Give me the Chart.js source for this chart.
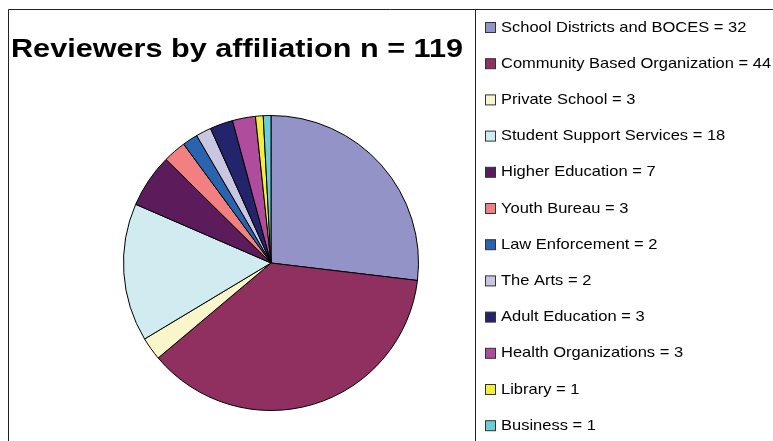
<!DOCTYPE html>
<html>
<head>
<meta charset="utf-8">
<script src="https://cdn.jsdelivr.net/npm/chart.js@4/dist/chart.umd.min.js"></script>
<style>
  html, body { margin: 0; padding: 0; background: #fff; }
  #wrap { width: 773px; height: 441px; }
</style>
</head>
<body>
<div id="wrap"><canvas id="pie" width="773" height="441"></canvas></div>
<script>
const chartTitle = 'Reviewers by affiliation n = 119';

const categories = [
    'School Districts and BOCES', 'Community Based Organization', 'Private School',
    'Student Support Services', 'Higher Education', 'Youth Bureau', 'Law Enforcement',
    'The Arts', 'Adult Education', 'Health Organizations', 'Library', 'Business'
];
const reviewers = [32, 44, 3, 18, 7, 3, 2, 2, 3, 3, 1, 1];
const sliceColors = [
    '#9393c8', '#8f3060', '#faf6cc', '#d0ecf0', '#5c1c5c', '#f28080',
    '#2964b0', '#c9c6e2', '#24246c', '#b04c9c', '#f0f03c', '#6cccd8'
];

// text drawn a little wider than the font, like the old office export
function wideText(ctx, text, x, y, stretch) {
    ctx.save();
    ctx.translate(x, y);
    ctx.scale(stretch, 1);
    ctx.fillText(text, 0, 0);
    ctx.restore();
}

// frame, title and legend list are painted by hand around the pie
const framePlugin = {
    id: 'frame',
    beforeDraw(chart) {
        const ctx = chart.ctx;
        ctx.save();
        ctx.fillStyle = '#fff';
        ctx.fillRect(0, 0, chart.width, chart.height);
        ctx.restore();
    },
    afterDraw(chart) {
        const ctx = chart.ctx;
        ctx.save();

        // outer border and the line that splits off the legend
        ctx.strokeStyle = '#222';
        ctx.lineWidth = 1;
        ctx.beginPath();
        ctx.moveTo(8.5, chart.height);
        ctx.lineTo(8.5, 9.5);
        ctx.lineTo(chart.width, 9.5);
        ctx.moveTo(475.5, 9.5);
        ctx.lineTo(475.5, chart.height);
        ctx.stroke();

        // title, centred over the pie panel
        ctx.fillStyle = '#000';
        ctx.font = 'bold 26px "Liberation Sans", Arial, sans-serif';
        ctx.textAlign = 'left';
        ctx.textBaseline = 'alphabetic';
        const titleW = ctx.measureText(chartTitle).width;
        const stretch = 452 / titleW;
        wideText(ctx, chartTitle, 237 - 226, 57, stretch);

        // legend
        ctx.font = '15px "Liberation Sans", Arial, sans-serif';
        ctx.textBaseline = 'middle';
        const labels = chart.data.labels;
        const values = chart.data.datasets[0].data;
        const colors = chart.data.datasets[0].backgroundColor;
        labels.forEach((label, i) => {
            const y = 27.5 + i * 36.2;
            ctx.fillStyle = colors[i];
            ctx.fillRect(485.5, y - 5, 10, 10);
            ctx.strokeStyle = '#333';
            ctx.strokeRect(485.5, y - 5, 10, 10);
            ctx.fillStyle = '#000';
            wideText(ctx, label + ' = ' + values[i], 501, y, 1.1);
        });
        ctx.restore();
    }
};

new Chart(document.getElementById('pie'), {
    type: 'pie',
    data: {
        labels: categories,
        datasets: [{
            data: reviewers,
            backgroundColor: sliceColors,
            borderColor: '#000',
            borderWidth: 1
        }]
    },
    options: {
        responsive: false,
        animation: false,
        layout: { padding: { left: 123, right: 354, top: 114, bottom: 29 } },
        plugins: {
            legend: { display: false },
            title: { display: false },
            tooltip: { enabled: false }
        }
    },
    plugins: [framePlugin]
});
</script>
</body>
</html>
